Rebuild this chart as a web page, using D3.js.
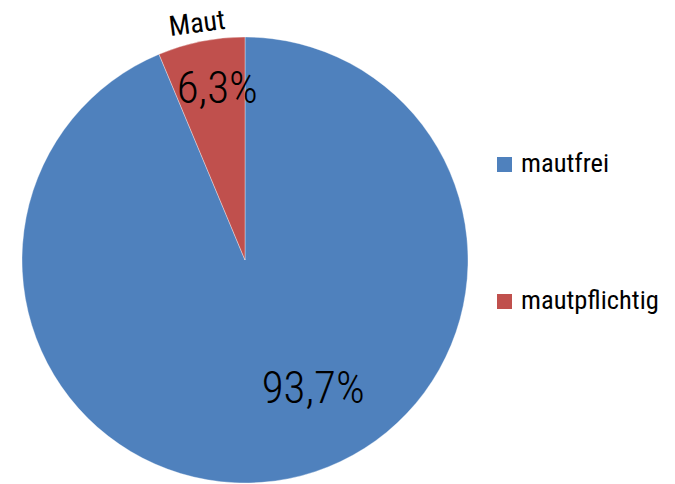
<!DOCTYPE html>
<html>
<head>
<meta charset="utf-8">
<script src="https://cdn.jsdelivr.net/npm/d3@7"></script>
<style>
  html, body { margin: 0; padding: 0; background: #fff; }
  svg text { font-family: "Roboto Condensed", "Liberation Sans Narrow", "Arial Narrow", sans-serif; fill: #000; }
  svg text.val { font-weight: 300; }
</style>
</head>
<body>
<svg id="chart" width="675" height="484"></svg>
<script>
// Share of road network by toll status
const categories = ["mautfrei", "mautpflichtig"];
const shares = [93.7, 6.3];
const valueLabels = ["93,7%", "6,3%"];
const colors = ["#4F81BD", "#C0504D"];

const svg = d3.select("#chart");
const cx = 245, cy = 260, r = 223;

const pie = d3.pie().sort(null).value(d => d)(shares);
const arc = d3.arc().innerRadius(0).outerRadius(r);

const g = svg.append("g").attr("transform", `translate(${cx},${cy})`);

g.selectAll("path")
  .data(pie)
  .join("path")
  .attr("d", arc)
  .attr("fill", (d, i) => colors[i])
  .attr("stroke", "rgba(255,255,255,0.35)")
  .attr("stroke-width", 1);

// Value labels inside slices: radial position plus a nudge
const labelPos = [
  { r: 0.62 * r, dx: 41, dy: 7 },
  { r: 0.77 * r, dx: 6, dy: 11 }
];
g.selectAll("text.val")
  .data(pie)
  .join("text")
  .attr("class", "val")
  .attr("text-anchor", "middle")
  .attr("font-size", 45)
  .attr("transform", (d, i) => {
    const p = labelPos[i];
    const c = d3.arc().innerRadius(p.r).outerRadius(p.r).centroid(d);
    return `translate(${c[0] + p.dx},${c[1] + p.dy})`;
  })
  .text((d, i) => valueLabels[i]);

// Category caption above the small slice
const small = pie[1];
const mid = (small.startAngle + small.endAngle) / 2;
const capR = r + 12;
svg.append("text")
  .attr("text-anchor", "middle")
  .attr("font-size", 28)
  .attr("transform", `translate(${cx + Math.sin(mid) * capR - 1},${cy - Math.cos(mid) * capR}) rotate(${mid * 180 / Math.PI - 360 + 4})`)
  .attr("dy", "0.1em")
  .text("Maut");

// Legend
const legend = svg.append("g").attr("transform", "translate(497,157)");
const items = legend.selectAll("g")
  .data(categories)
  .join("g")
  .attr("transform", (d, i) => `translate(0,${i * 137})`);
items.append("rect")
  .attr("width", 15).attr("height", 15)
  .attr("fill", (d, i) => colors[i]);
items.append("text")
  .attr("x", 24).attr("y", 15)
  .attr("font-size", 26.5)
  .text(d => d);
</script>
</body>
</html>
